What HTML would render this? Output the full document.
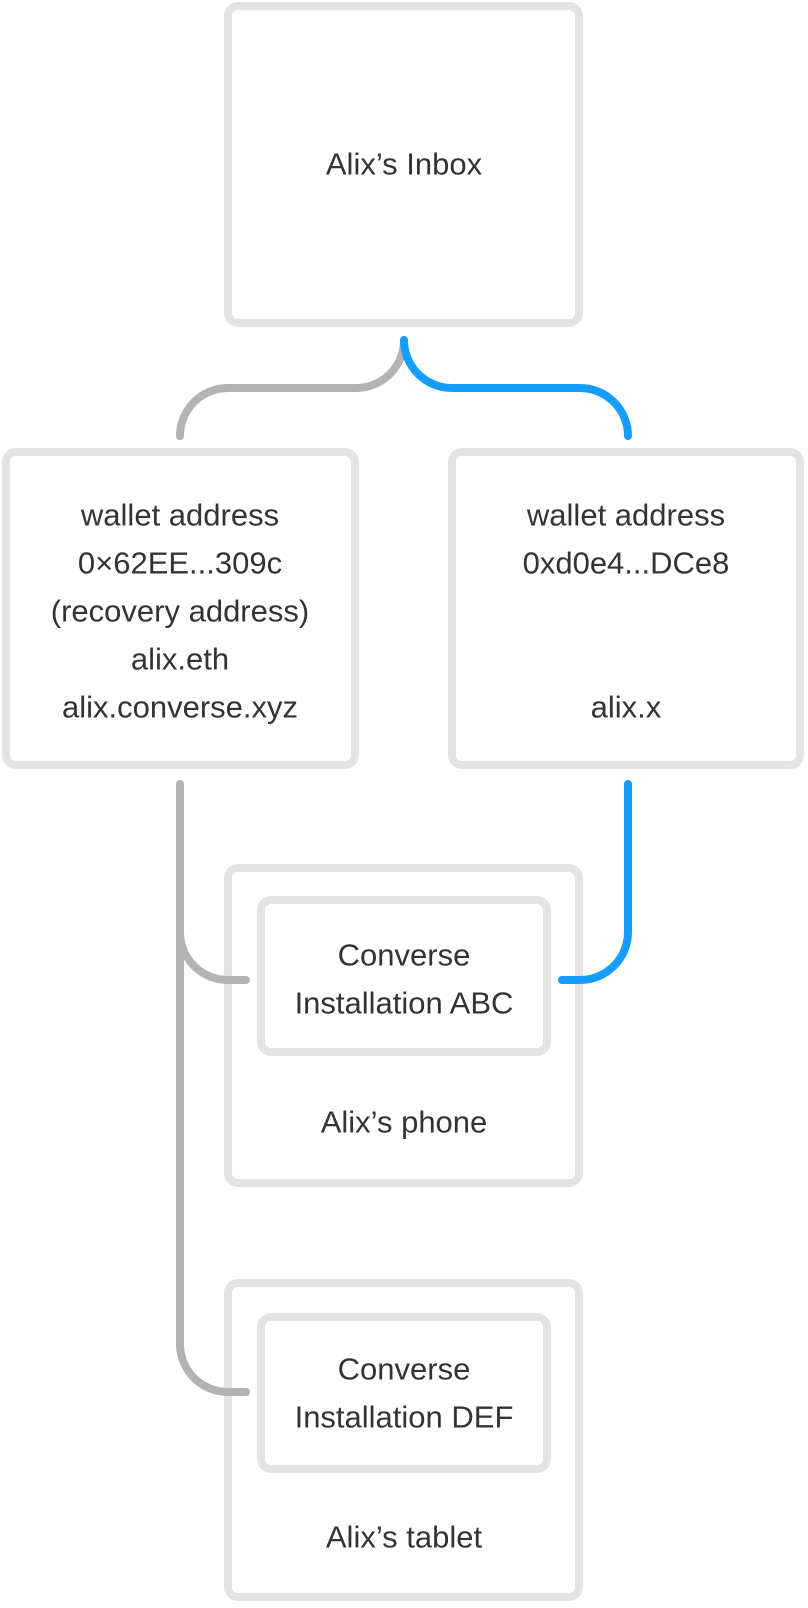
<!DOCTYPE html>
<html><head><meta charset="utf-8"><style>
html,body{margin:0;padding:0;background:#fff;}
svg{display:block;}
text{font-family:"Liberation Sans",sans-serif;font-size:31px;fill:#333;text-anchor:middle;dominant-baseline:central;}
</style></head><body>
<svg width="808" height="1608" viewBox="0 0 808 1608" xmlns="http://www.w3.org/2000/svg">
<g fill="none" stroke="#e3e3e3" stroke-width="8">
<rect x="228" y="6" width="351" height="317" rx="10"/>
<rect x="6" y="452" width="349" height="313" rx="10"/>
<rect x="452" y="452" width="348" height="313" rx="10"/>
<rect x="228" y="868" width="351" height="315" rx="10"/>
<rect x="261" y="900" width="286" height="152" rx="10"/>
<rect x="228" y="1283" width="351" height="314" rx="10"/>
<rect x="261" y="1317" width="286" height="152" rx="10"/>
</g>
<g fill="none" stroke-width="8" stroke-linecap="round">
<path d="M404 340 A48 48 0 0 1 356 388 L228 388 A48 48 0 0 0 180 436" stroke="#b3b3b3"/>
<path d="M404 340 A48 48 0 0 0 452 388 L580 388 A48 48 0 0 1 628 436" stroke="#149cff"/>
<path d="M180 784 L180 1344 A48 48 0 0 0 228 1392 L246 1392" stroke="#b3b3b3"/>
<path d="M180 932 A48 48 0 0 0 228 980 L246 980" stroke="#b3b3b3"/>
<path d="M628 784 L628 932 A48 48 0 0 1 580 980 L562 980" stroke="#149cff"/>
</g>
<text x="404" y="164">Alix’s Inbox</text>
<text x="180" y="515">wallet address</text>
<text x="180" y="563">0×62EE...309c</text>
<text x="180" y="611">(recovery address)</text>
<text x="180" y="659">alix.eth</text>
<text x="180" y="707">alix.converse.xyz</text>
<text x="626" y="515">wallet address</text>
<text x="626" y="563">0xd0e4...DCe8</text>
<text x="626" y="707">alix.x</text>
<text x="404" y="955">Converse</text>
<text x="404" y="1003">Installation ABC</text>
<text x="404" y="1122">Alix’s phone</text>
<text x="404" y="1369">Converse</text>
<text x="404" y="1417">Installation DEF</text>
<text x="404" y="1537">Alix’s tablet</text>
</svg>
</body></html>
